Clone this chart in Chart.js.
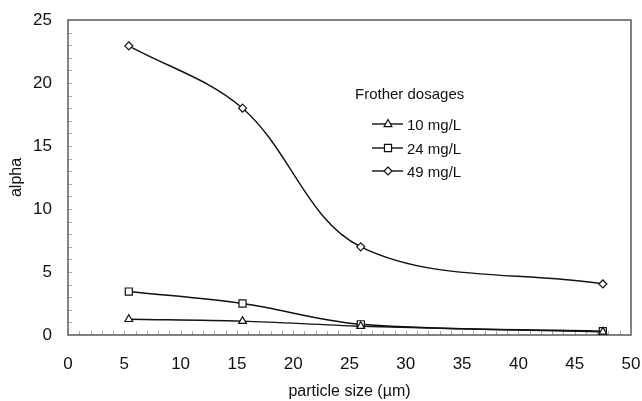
<!DOCTYPE html>
<html>
<head>
<meta charset="utf-8">
<script src="https://cdn.jsdelivr.net/npm/chart.js@4/dist/chart.umd.min.js"></script>
<style>
  html, body { margin: 0; padding: 0; background: #fff; }
  #wrap { width: 642px; height: 401px; }
</style>
</head>
<body>
<div id="wrap"><canvas id="c"></canvas></div>
<script>
// particle size (µm) at which alpha was measured
const sizes = [5.4, 15.5, 26, 47.5];
const alpha10 = [1.25, 1.1, 0.7, 0.25];
const alpha24 = [3.45, 2.5, 0.85, 0.3];
const alpha49 = [22.95, 18.0, 7.0, 4.05];
const seriesNames = ['10 mg/L', '24 mg/L', '49 mg/L'];
const xTicks = [0, 5, 10, 15, 20, 25, 30, 35, 40, 45, 50];
const yTicks = [0, 5, 10, 15, 20, 25];

const FONT = 'Liberation Sans, Arial, sans-serif';
const INK = '#111';

const pts = ys => ys.map((y, i) => ({ x: sizes[i], y }));

function mkSet(label, ys, style, r) {
  return {
    label, data: pts(ys),
    borderColor: INK, borderWidth: 1.4,
    pointStyle: style, pointRadius: r, pointHoverRadius: r,
    pointBackgroundColor: '#fff', pointBorderColor: INK, pointBorderWidth: 1.2,
    tension: 0.35, fill: false,
  };
}

function marker(ctx, style, x, y, r) {
  ctx.beginPath();
  if (style === 'triangle') {
    ctx.moveTo(x, y - r);
    ctx.lineTo(x + r * 0.87, y + r * 0.6);
    ctx.lineTo(x - r * 0.87, y + r * 0.6);
    ctx.closePath();
  } else if (style === 'rect') {
    const s = r * Math.SQRT1_2;
    ctx.rect(x - s, y - s, 2 * s, 2 * s);
  } else {
    ctx.moveTo(x, y - r); ctx.lineTo(x + r, y); ctx.lineTo(x, y + r); ctx.lineTo(x - r, y);
    ctx.closePath();
  }
  ctx.fillStyle = '#fff'; ctx.fill();
  ctx.lineWidth = 1.2; ctx.strokeStyle = INK; ctx.stroke();
}

// no automatic label overhang, so the plot box lands where the original has it
function noPad(s) {
  s.paddingLeft = s.paddingRight = s.paddingTop = s.paddingBottom = 0;
}

// frame + inner minor ticks
const framePlugin = {
  id: 'frame',
  beforeDatasetsDraw(chart) {
    const { ctx, chartArea: a, scales: { x, y } } = chart;
    ctx.save();
    ctx.strokeStyle = '#aaa'; ctx.lineWidth = 1;
    for (let v = 1; v < 50; v++) {
      const px = Math.round(x.getPixelForValue(v)) + 0.5;
      ctx.beginPath(); ctx.moveTo(px, a.bottom); ctx.lineTo(px, a.bottom - 4); ctx.stroke();
    }
    for (let v = 1; v < 25; v++) {
      const py = Math.round(y.getPixelForValue(v)) + 0.5;
      ctx.beginPath(); ctx.moveTo(a.left, py); ctx.lineTo(a.left + 4, py); ctx.stroke();
    }
    ctx.strokeStyle = '#5a5a5a'; ctx.lineWidth = 1.5;
    ctx.strokeRect(a.left, a.top, a.right - a.left, a.bottom - a.top);
    ctx.restore();
  }
};

// legend drawn inside the plot like the original
const legendPlugin = {
  id: 'innerLegend',
  afterDraw(chart) {
    const { ctx } = chart;
    ctx.save();
    ctx.font = '15px ' + FONT;
    ctx.fillStyle = INK;
    ctx.textBaseline = 'alphabetic';
    ctx.fillText('Frother dosages', 355, 99);
    const rows = [130, 154, 177];
    chart.data.datasets.forEach((ds, i) => {
      const yy = rows[i] - 6;
      ctx.strokeStyle = INK; ctx.lineWidth = 1.4;
      ctx.beginPath(); ctx.moveTo(372, yy); ctx.lineTo(403, yy); ctx.stroke();
      marker(ctx, ds.pointStyle, 388, yy, ds.pointRadius);
      ctx.fillStyle = INK;
      ctx.fillText(ds.label, 407, rows[i]);
    });
    ctx.restore();
  }
};

new Chart(document.getElementById('c'), {
  type: 'line',
  data: {
    datasets: [
      mkSet(seriesNames[0], alpha10, 'triangle', 4.5),
      mkSet(seriesNames[1], alpha24, 'rect', 5),
      mkSet(seriesNames[2], alpha49, 'rectRot', 4),
    ],
  },
  options: {
    responsive: true, maintainAspectRatio: false, animation: false,
    layout: { padding: { top: 20, right: 11, left: 0, bottom: 0 } },
    plugins: { legend: { display: false }, tooltip: { enabled: false } },
    scales: {
      x: {
        type: 'linear', min: 0, max: 50,
        afterBuildTicks: s => { s.ticks = xTicks.map(v => ({ value: v })); },
        afterFit: s => { s.height = 66; noPad(s); },
        grid: { display: false, drawTicks: false }, border: { display: false },
        ticks: { color: INK, padding: 19, font: { family: FONT, size: 17 } },
        title: { display: true, text: 'particle size (µm)', color: INK,
                 padding: { top: 0, bottom: 0 }, font: { family: FONT, size: 16 } },
      },
      y: {
        min: 0, max: 25,
        afterBuildTicks: s => { s.ticks = yTicks.map(v => ({ value: v })); },
        afterFit: s => { s.width = 68; noPad(s); },
        grid: { display: false, drawTicks: false }, border: { display: false },
        ticks: { color: INK, padding: 16, font: { family: FONT, size: 17 } },
        title: { display: true, text: 'alpha', color: INK,
                 padding: { top: 7, bottom: 0 }, font: { family: FONT, size: 16 } },
      },
    },
  },
  plugins: [framePlugin, legendPlugin],
});
</script>
</body>
</html>
